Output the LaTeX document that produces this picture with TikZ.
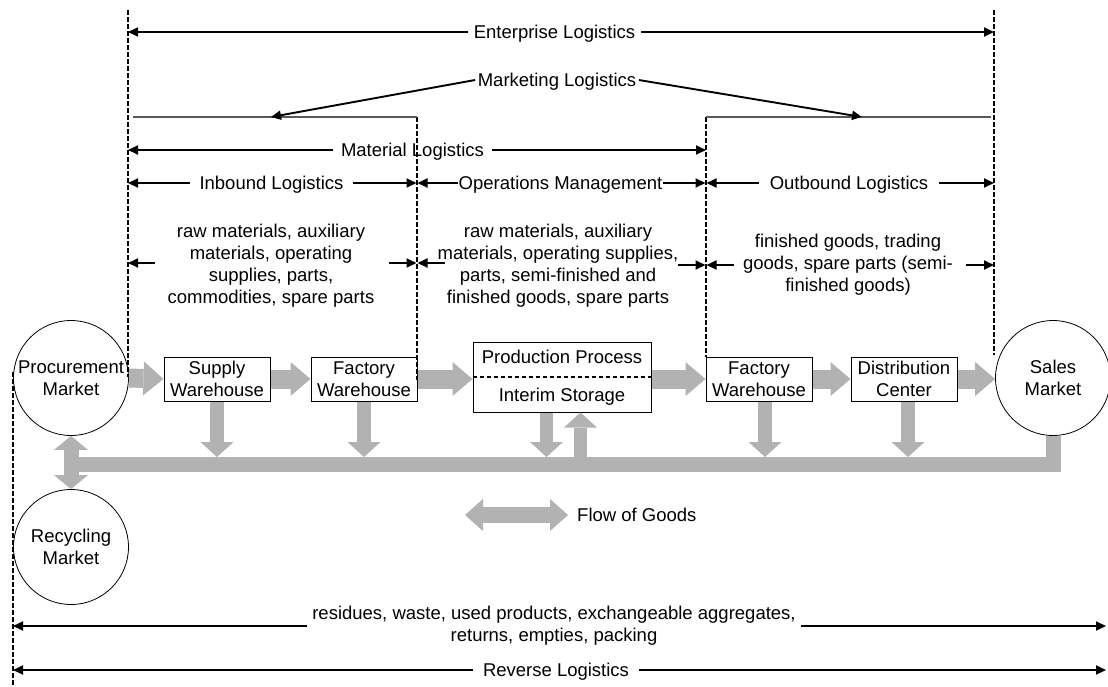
\documentclass[tikz,border=0pt]{standalone}
\usepackage{fontspec}
\setmainfont{Liberation Sans}
\usetikzlibrary{arrows.meta,calc}
\definecolor{flowgray}{HTML}{B2B2B2}
\begin{document}
\begin{tikzpicture}[x=1pt,y=-1pt,
  every node/.style={font=\fontsize{18.5}{22}\selectfont},
  lbl/.style={inner ysep=0pt, text height=13.3pt, text depth=0pt},
  para/.style={inner sep=0pt, align=center},
  dim/.style={line width=1.9pt, -{Triangle[length=10pt,width=9pt]}},
  guide/.style={line width=1.7pt, dash pattern=on 4.5pt off 2.5pt},
  bracket/.style={line width=1.1pt, black!65},
  market/.style={circle, draw, line width=0.8pt, minimum size=115pt, inner sep=0pt, align=center},
  store/.style={draw, line width=1pt, minimum width=106pt, minimum height=44pt, inner sep=0pt, align=center},
  flowh/.style={draw=flowgray, line width=19pt, -{Triangle[length=20pt,width=34pt,line width=0pt]}},
  flowv/.style={draw=flowgray, line width=13.5pt, -{Triangle[length=15pt,width=33pt,line width=0pt]}},
  flowvv/.style={draw=flowgray, line width=15pt, {Triangle[length=14pt,width=34pt,line width=0pt]}-{Triangle[length=14pt,width=34pt,line width=0pt]}},
  flowleg/.style={draw=flowgray, line width=16pt, {Triangle[length=18pt,width=32pt,line width=0pt]}-{Triangle[length=18pt,width=32pt,line width=0pt]}},
]
\useasboundingbox (0,0) rectangle (1108,686);

% ---------- boundary guides ----------
\coordinate (dAtop) at (128,10);   \coordinate (dAbot) at (128,377);
\coordinate (dBtop) at (417,117);  \coordinate (dBbot) at (417,380);
\coordinate (dCtop) at (706,117);  \coordinate (dCbot) at (706,357);
\coordinate (dDtop) at (994,10);   \coordinate (dDbot) at (994,355);
\coordinate (dEtop) at (13,372);   \coordinate (dEbot) at (13,686);
\draw[guide] (dAtop) -- (dAbot);
\draw[guide] (dBtop) -- (dBbot);
\draw[guide] (dCtop) -- (dCbot);
\draw[guide] (dDtop) -- (dDbot);
\draw[guide] (dEtop) -- (dEbot);

% ---------- markets and storage points ----------
\node[market] (proc)  at (71,378)   {Procurement\\Market};
\node[market] (sales) at (1053,378) {Sales\\Market};
\node[market] (recyc) at (71,547)   {Recycling\\Market};
\node[store] (sw)  at (217,379) {Supply\\Warehouse};
\node[store] (fw1) at (364,379) {Factory\\Warehouse};
\node[store] (fw2) at (759,379) {Factory\\Warehouse};
\node[store] (dc)  at (904,379) {Distribution\\Center};
\node[draw, line width=1pt, minimum width=178pt, minimum height=70pt, inner sep=0pt] (prod) at (562,377) {};
\draw[guide] (prod.west) -- (prod.east);
\node (pp) at ($(prod.center)+(0,-20)$) {Production Process};
\node (is) at ($(prod.center)+(0,20)$) {Interim Storage};

% ---------- flow of goods ----------
\coordinate (busL) at (71,464.5);
\coordinate (busT) at (0,457);
\draw[draw=flowgray, line width=15pt] (sales.south) -- (sales.south |- busL) -- (busL);
\draw[flowvv] (proc.south) -- (recyc.north);
\draw[flowh] (proc.east) -- (sw.west);
\draw[flowh] (sw.east) -- (fw1.west);
\draw[flowh] (fw1.east) -- (fw1.east -| prod.west);
\draw[flowh] (prod.east |- fw2.west) -- (fw2.west);
\draw[flowh] (fw2.east) -- (dc.west);
\draw[flowh] (dc.east) -- (dc.east -| sales.west);
\coordinate (pdown) at ($(prod.south)+(-15.5,0)$);
\coordinate (pup)   at ($(prod.south)+(18.5,0)$);
\coordinate (fw2d)  at ($(fw2.south)+(6,0)$);
\coordinate (dcd)   at ($(dc.south)+(4,0)$);
\draw[flowv] (sw.south) -- (sw.south |- busT);
\draw[flowv] (fw1.south) -- (fw1.south |- busT);
\draw[flowv] (pdown) -- (pdown |- busT);
\draw[flowv] (pup |- busL) -- (pup);
\draw[flowv] (fw2d) -- (fw2d |- busT);
\draw[flowv] (dcd) -- (dcd |- busT);

% legend
\coordinate (legL) at (465,515);
\coordinate (legR) at (568,515);
\draw[flowleg] (legL) -- (legR);
\node[lbl, anchor=west, inner xsep=0pt] (leg) at (577,515) {Flow of Goods};

% ---------- scope labels ----------
\node[lbl, inner xsep=6pt] (ent) at (554.5,32) {Enterprise Logistics};
\draw[dim] (ent.west) -- (ent.west -| dAtop);
\draw[dim] (ent.east) -- (ent.east -| dDtop);

\node[lbl, inner xsep=2.5pt] (mkt) at (557,80) {Marketing Logistics};
\coordinate (mktL) at (271,117);
\coordinate (mktR) at (862,117);
\draw[bracket] (133,117) -- (dBtop);
\draw[bracket] (dCtop) -- (991,117);
\draw[dim] (mkt.west) -- (mktL);
\draw[dim] (mkt.east) -- (mktR);

\node[lbl, inner xsep=7.5pt] (mat) at (412.5,150) {Material Logistics};
\draw[dim] (mat.west) -- (mat.west -| dAtop);
\draw[dim] (mat.east) -- (mat.east -| dCtop);

\node[lbl, inner xsep=9pt] (inb) at (271.5,183) {Inbound Logistics};
\draw[dim] (inb.west) -- (inb.west -| dAtop);
\draw[dim] (inb.east) -- ($(inb.east -| dBtop)+(-0.5,0)$);

\node[lbl, inner xsep=0pt] (ops) at (560.5,183) {Operations Management};
\draw[dim] (ops.west) -- ($(ops.west -| dBtop)+(0.5,0)$);
\draw[dim] (ops.east) -- ($(ops.east -| dCtop)+(-0.5,0)$);

\node[lbl, inner xsep=11pt] (outb) at (849,183) {Outbound Logistics};
\draw[dim] (outb.west) -- ($(outb.west -| dCtop)+(0.5,0)$);
\draw[dim] (outb.east) -- (outb.east -| dDtop);

% ---------- goods handled in each section ----------
\node[para] (inbd) at (271,266) {raw materials, auxiliary\\materials, operating\\supplies, parts,\\commodities, spare parts};
\node[para] (opsd) at (558,266) {raw materials, auxiliary\\materials, operating supplies,\\parts, semi-finished and\\finished goods, spare parts};
\node[para] (outd) at (848,265) {finished goods, trading\\goods, spare parts (semi-\\finished goods)};
\coordinate (inbdL) at (155,263);  \coordinate (inbdR) at (389,263);
\coordinate (opsdL) at (445,263);  \coordinate (opsdR) at (678,265);
\coordinate (outdL) at (734,265);  \coordinate (outdR) at (966,265);
\draw[dim] (inbdL) -- (inbdL -| dAtop);
\draw[dim] (inbdR) -- ($(inbdR -| dBtop)+(-0.5,0)$);
\draw[dim] (opsdL) -- ($(opsdL -| dBtop)+(0.5,0)$);
\draw[dim] (opsdR) -- ($(opsdR -| dCtop)+(-0.5,0)$);
\draw[dim] (outdL) -- ($(outdL -| dCtop)+(0.5,0)$);
\draw[dim] (outdR) -- (outdR -| dDtop);

% ---------- reverse logistics ----------
\coordinate (revEnd) at (1106,0);
\node[para, inner xsep=5pt] (resd) at (554,626) {residues, waste, used products, exchangeable aggregates,\\returns, empties, packing};
\draw[dim] (resd.west) -- (resd.west -| dEtop);
\draw[dim] (resd.east) -- (resd.east -| revEnd);

\node[lbl, inner xsep=10pt] (rev) at (556,670) {Reverse Logistics};
\draw[dim] (rev.west) -- (rev.west -| dEtop);
\draw[dim] (rev.east) -- (rev.east -| revEnd);
\end{tikzpicture}
\end{document}
